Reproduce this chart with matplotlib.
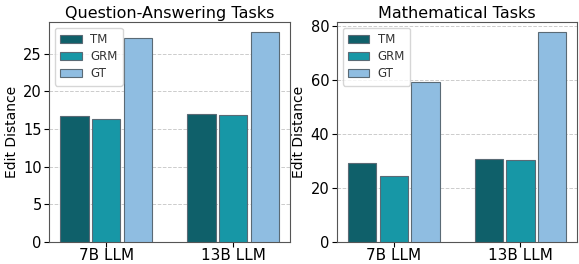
import numpy as np
import matplotlib.pyplot as plt

# Data
models = ['7B LLM', '13B LLM']
methods = ['TM', 'GRM', 'GT']
qa_tm = [16.7, 17.0]
qa_grm = [16.3, 16.8]
qa_gt = [27.1, 27.8]
math_tm = [29.5, 31.0]
math_grm = [24.6, 30.5]
math_gt = [59.5, 77.8]

colors = ['#0f606a', '#1797a6', '#8fbde1']

fig = plt.figure(figsize=(5.79, 2.64), dpi=100)
ax1 = fig.add_axes([0.085, 0.083, 0.416, 0.834])
ax2 = fig.add_axes([0.582, 0.083, 0.415, 0.834])

x = np.arange(len(models))
offsets = [-0.25, 0.0, 0.25]
width = 0.225

panels = [
    (ax1, 'Question-Answering Tasks', [qa_tm, qa_grm, qa_gt], [0, 5, 10, 15, 20, 25]),
    (ax2, 'Mathematical Tasks', [math_tm, math_grm, math_gt], [0, 20, 40, 60, 80]),
]

for ax, title, series, yticks in panels:
    for vals, off, col, lab in zip(series, offsets, colors, methods):
        ax.bar(x + off, vals, width, color=col, edgecolor='#5a6a75',
               linewidth=0.8, label=lab, zorder=3)
    ax.set_title(title, fontsize=11.5, pad=3)
    ax.set_ylabel('Edit Distance', fontsize=10, labelpad=3)
    ax.set_xticks(x)
    ax.set_xticklabels(models, fontsize=11)
    ax.set_yticks(yticks)
    ax.tick_params(axis='y', labelsize=10.5, pad=2)
    ax.tick_params(axis='x', pad=1)
    ax.grid(axis='y', linestyle='--', color='#cccccc', linewidth=0.7, zorder=0)
    leg = ax.legend(loc='upper left', fontsize=8.5, handlelength=1.8,
                    handletextpad=0.7, borderpad=0.45, labelspacing=0.35)
    for t in leg.get_texts():
        t.set_color('#333333')
    for s in ax.spines.values():
        s.set_color('#555555')

fig.savefig('out.png', dpi=100)
